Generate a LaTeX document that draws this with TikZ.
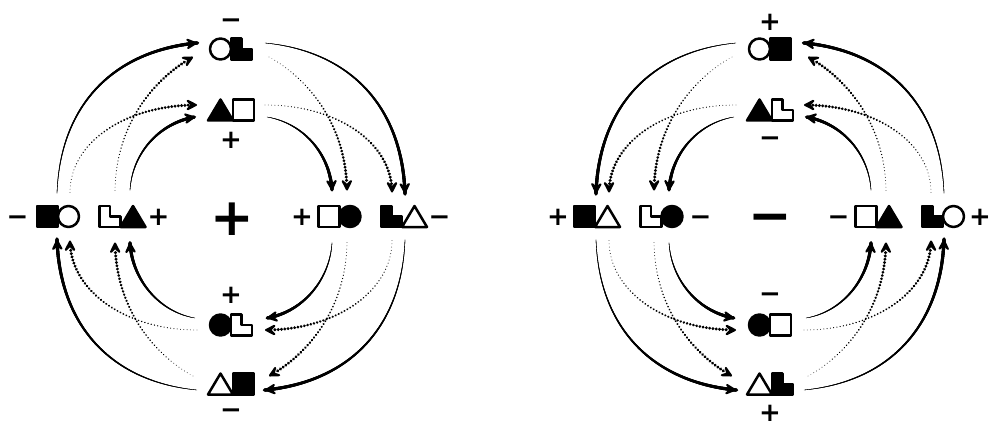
\documentclass[tikz,border=0pt]{standalone}
\usepackage{fontspec}
\setmainfont{DejaVu Sans}
\usetikzlibrary{calc,decorations.markings,arrows.meta}

\tikzset{
  glyph/.style={draw=black, line width=2.5pt, line join=round},
  sqr/.pic={\path[glyph,pic actions] (-10.5,-10.5) rectangle (10.5,10.5);},
  circ/.pic={\path[glyph,pic actions] (0,0) circle[radius=10.5];},
  tri/.pic={\path[glyph,pic actions] (-12.5,10.5) -- (12.5,10.5) -- (0,-10.5) -- cycle;},
  ell/.pic={\path[glyph,pic actions] (-10.5,-10.5) -- (0,-10.5) -- (0,0) -- (10.5,0) -- (10.5,10.5) -- (-10.5,10.5) -- cycle;},
  pairbox/.style={rectangle, minimum width=46pt, minimum height=21pt, inner sep=0pt},
  sgn/.style={font=\bfseries\fontsize{26}{26}\selectfont, inner sep=0pt, text height=17.9pt, text depth=0pt},
  bigsgn/.style={font=\bfseries\fontsize{52}{52}\selectfont, inner sep=0pt, text height=35.9pt, text depth=0pt},
  solidarr/.style={postaction={decorate,decoration={markings,
     mark=between positions 0 and 0.99 step 0.6pt with {%
       \pgfmathsetmacro\tprw{0.3+3.0*\pgfkeysvalueof{/pgf/decoration/mark info/distance from start}/\pgfdecoratedpathlength}%
       \draw[line width=\tprw pt,line cap=round] (0pt,0pt) -- (1.2pt,0pt);}}}},
  dotarr/.style={postaction={decorate,decoration={markings,
     mark=between positions 0 and 0.95 step 3.3pt with {%
       \pgfmathsetmacro\tprr{0.35+1.45*\pgfkeysvalueof{/pgf/decoration/mark info/distance from start}/\pgfdecoratedpathlength}%
       \fill (0pt,0pt) circle[radius=\tprr pt];}}}},
  headtip/.style={line width=0.01pt, -{Stealth[length=15pt,width=15pt,inset=7pt,line width=2pt,round]}}
}

% one tapered connector: #1 style, #2 start, #3 first control (rel. to start), #4 x and #5 y of the second control (rel. to end), #6 end
\newcommand\tconn[6]{%
 \coordinate (qs) at #2;
 \coordinate (qe) at #6;
 \path[#1] (qs) .. controls #3 and +({#4},{#5}) .. (qe);
 \draw[headtip] ($(qe)+({0.04*(#4)},{0.04*(#5)})$) -- (qe);
}
% four arrows of one quadrant, from the horizontal nodes (#1 outer, #2 inner) to the vertical nodes (#3 outer, #4 inner)
\newcommand\quadF[4]{%
 \tconn{solidarr}{($(#1)+({-1*\qsx},{-23*\qsy})$)}{+({3*\qsx},{-88*\qsy})}{-84*\qsx}{8*\qsy}{($(#3)+({-34*\qsx},{-6*\qsy})$)}
 \tconn{dotarr}{($(#1)+({12*\qsx},{-24*\qsy})$)}{+({0*\qsx},{-50*\qsy})}{-72*\qsx}{0*\qsy}{($(#4)+({-34*\qsx},{-5*\qsy})$)}
 \tconn{dotarr}{($(#2)+({-7.5*\qsx},{-26*\qsy})$)}{+({1*\qsx},{-70*\qsy})}{-35*\qsx}{19*\qsy}{($(#3)+({-38*\qsx},{8*\qsy})$)}
 \tconn{solidarr}{($(#2)+({7.5*\qsx},{-26*\qsy})$)}{+({2*\qsx},{-37*\qsy})}{-36*\qsx}{6*\qsy}{($(#4)+({-36*\qsx},{7*\qsy})$)}
}
% the same quadrant, from the vertical nodes to the horizontal nodes
\newcommand\quadR[4]{%
 \tconn{solidarr}{($(#3)+({-34*\qsx},{-6*\qsy})$)}{+({-84*\qsx},{8*\qsy})}{3*\qsx}{-88*\qsy}{($(#1)+({-1*\qsx},{-23*\qsy})$)}
 \tconn{dotarr}{($(#4)+({-34*\qsx},{-5*\qsy})$)}{+({-72*\qsx},{0*\qsy})}{0*\qsx}{-50*\qsy}{($(#1)+({12*\qsx},{-24*\qsy})$)}
 \tconn{dotarr}{($(#3)+({-38*\qsx},{8*\qsy})$)}{+({-35*\qsx},{19*\qsy})}{1*\qsx}{-70*\qsy}{($(#2)+({-7.5*\qsx},{-26*\qsy})$)}
 \tconn{solidarr}{($(#4)+({-36*\qsx},{7*\qsy})$)}{+({-36*\qsx},{6*\qsy})}{2*\qsx}{-37*\qsy}{($(#2)+({7.5*\qsx},{-26*\qsy})$)}
}

\begin{document}
\begin{tikzpicture}[x=1pt,y=-1pt]
\fill[white] (0,0) rectangle (996,433);
\useasboundingbox (0,0) rectangle (996,433);

% ---------- left diagram ----------
\node[pairbox] (LTO) at (231,49) {};
\node[pairbox] (LTI) at (231,110) {};
\node[pairbox] (LLO) at (58,216.5) {};
\node[pairbox] (LLI) at (122.5,216.5) {};
\node[pairbox] (LRI) at (339.5,216.5) {};
\node[pairbox] (LRO) at (404,216.5) {};
\node[pairbox] (LBI) at (231,325) {};
\node[pairbox] (LBO) at (231,384) {};

\pic[fill=white] at ($(LTO)+(-10.5,0)$) {circ};
\pic[fill=black] at ($(LTO)+(10.5,0)$) {ell};
\pic[fill=black] at ($(LTI)+(-10.5,0)$) {tri};
\pic[fill=white] at ($(LTI)+(12.5,0)$) {sqr};
\pic[fill=black] at ($(LLO)+(-10.5,0)$) {sqr};
\pic[fill=white] at ($(LLO)+(10.5,0)$) {circ};
\pic[fill=white] at ($(LLI)+(-12.5,0)$) {ell};
\pic[fill=black] at ($(LLI)+(10.5,0)$) {tri};
\pic[fill=white] at ($(LRI)+(-10.5,0)$) {sqr};
\pic[fill=black] at ($(LRI)+(10.5,0)$) {circ};
\pic[fill=black] at ($(LRO)+(-12.5,0)$) {ell};
\pic[fill=white] at ($(LRO)+(10.5,0)$) {tri};
\pic[fill=black] at ($(LBI)+(-10.5,0)$) {circ};
\pic[fill=white] at ($(LBI)+(10.5,0)$) {ell};
\pic[fill=white] at ($(LBO)+(-10.5,0)$) {tri};
\pic[fill=black] at ($(LBO)+(12.5,0)$) {sqr};

\node[sgn] (sLTO) at ($(LTO)+(0,-29)$) {−};
\node[sgn] (sLTI) at ($(LTI)+(0,30)$) {+};
\node[sgn] (sLBI) at ($(LBI)+(0,-30)$) {+};
\node[sgn] (sLBO) at ($(LBO)+(0,26)$) {−};
\node[sgn] (sLLO) at ($(LLO)+(-40.5,0)$) {−};
\node[sgn] (sLLI) at ($(LLI)+(36,0)$) {+};
\node[sgn] (sLRI) at ($(LRI)+(-37.5,0)$) {+};
\node[sgn] (sLRO) at ($(LRO)+(35.5,0)$) {−};
\node[bigsgn] (cL) at (232,218) {+};

\def\qsx{1}\def\qsy{1}\quadF{LLO}{LLI}{LTO}{LTI}
\def\qsx{(-1)}\def\qsy{1}\quadR{LRO}{LRI}{LTO}{LTI}
\def\qsx{(-1)}\def\qsy{(-1)}\quadF{LRO}{LRI}{LBO}{LBI}
\def\qsx{1}\def\qsy{(-1)}\quadR{LLO}{LLI}{LBO}{LBI}

% ---------- right diagram ----------
\node[pairbox] (RTO) at (770,49) {};
\node[pairbox] (RTI) at (770,110) {};
\node[pairbox] (RLO) at (597,216.5) {};
\node[pairbox] (RLI) at (661.5,216.5) {};
\node[pairbox] (RRI) at (878.5,216.5) {};
\node[pairbox] (RRO) at (943,216.5) {};
\node[pairbox] (RBI) at (770,325) {};
\node[pairbox] (RBO) at (770,384) {};

\pic[fill=white] at ($(RTO)+(-10.5,0)$) {circ};
\pic[fill=black] at ($(RTO)+(10.5,0)$) {sqr};
\pic[fill=black] at ($(RTI)+(-10.5,0)$) {tri};
\pic[fill=white] at ($(RTI)+(12.5,0)$) {ell};
\pic[fill=black] at ($(RLO)+(-12.5,0)$) {sqr};
\pic[fill=white] at ($(RLO)+(10.5,0)$) {tri};
\pic[fill=white] at ($(RLI)+(-10.5,0)$) {ell};
\pic[fill=black] at ($(RLI)+(10.5,0)$) {circ};
\pic[fill=white] at ($(RRI)+(-12.5,0)$) {sqr};
\pic[fill=black] at ($(RRI)+(10.5,0)$) {tri};
\pic[fill=black] at ($(RRO)+(-10.5,0)$) {ell};
\pic[fill=white] at ($(RRO)+(10.5,0)$) {circ};
\pic[fill=black] at ($(RBI)+(-10.5,0)$) {circ};
\pic[fill=white] at ($(RBI)+(10.5,0)$) {sqr};
\pic[fill=white] at ($(RBO)+(-10.5,0)$) {tri};
\pic[fill=black] at ($(RBO)+(12.5,0)$) {ell};

\node[sgn] (sRTO) at ($(RTO)+(0,-27)$) {+};
\node[sgn] (sRTI) at ($(RTI)+(0,28)$) {−};
\node[sgn] (sRBI) at ($(RBI)+(0,-31)$) {−};
\node[sgn] (sRBO) at ($(RBO)+(0,29)$) {+};
\node[sgn] (sRLO) at ($(RLO)+(-39,0)$) {+};
\node[sgn] (sRLI) at ($(RLI)+(39,0)$) {−};
\node[sgn] (sRRI) at ($(RRI)+(-40,0)$) {−};
\node[sgn] (sRRO) at ($(RRO)+(37,0)$) {+};
\node[bigsgn] (cR) at (770,216) {−};

\def\qsx{(-1)}\def\qsy{1}\quadF{RRO}{RRI}{RTO}{RTI}
\def\qsx{1}\def\qsy{1}\quadR{RLO}{RLI}{RTO}{RTI}
\def\qsx{1}\def\qsy{(-1)}\quadF{RLO}{RLI}{RBO}{RBI}
\def\qsx{(-1)}\def\qsy{(-1)}\quadR{RRO}{RRI}{RBO}{RBI}
\end{tikzpicture}
\end{document}
